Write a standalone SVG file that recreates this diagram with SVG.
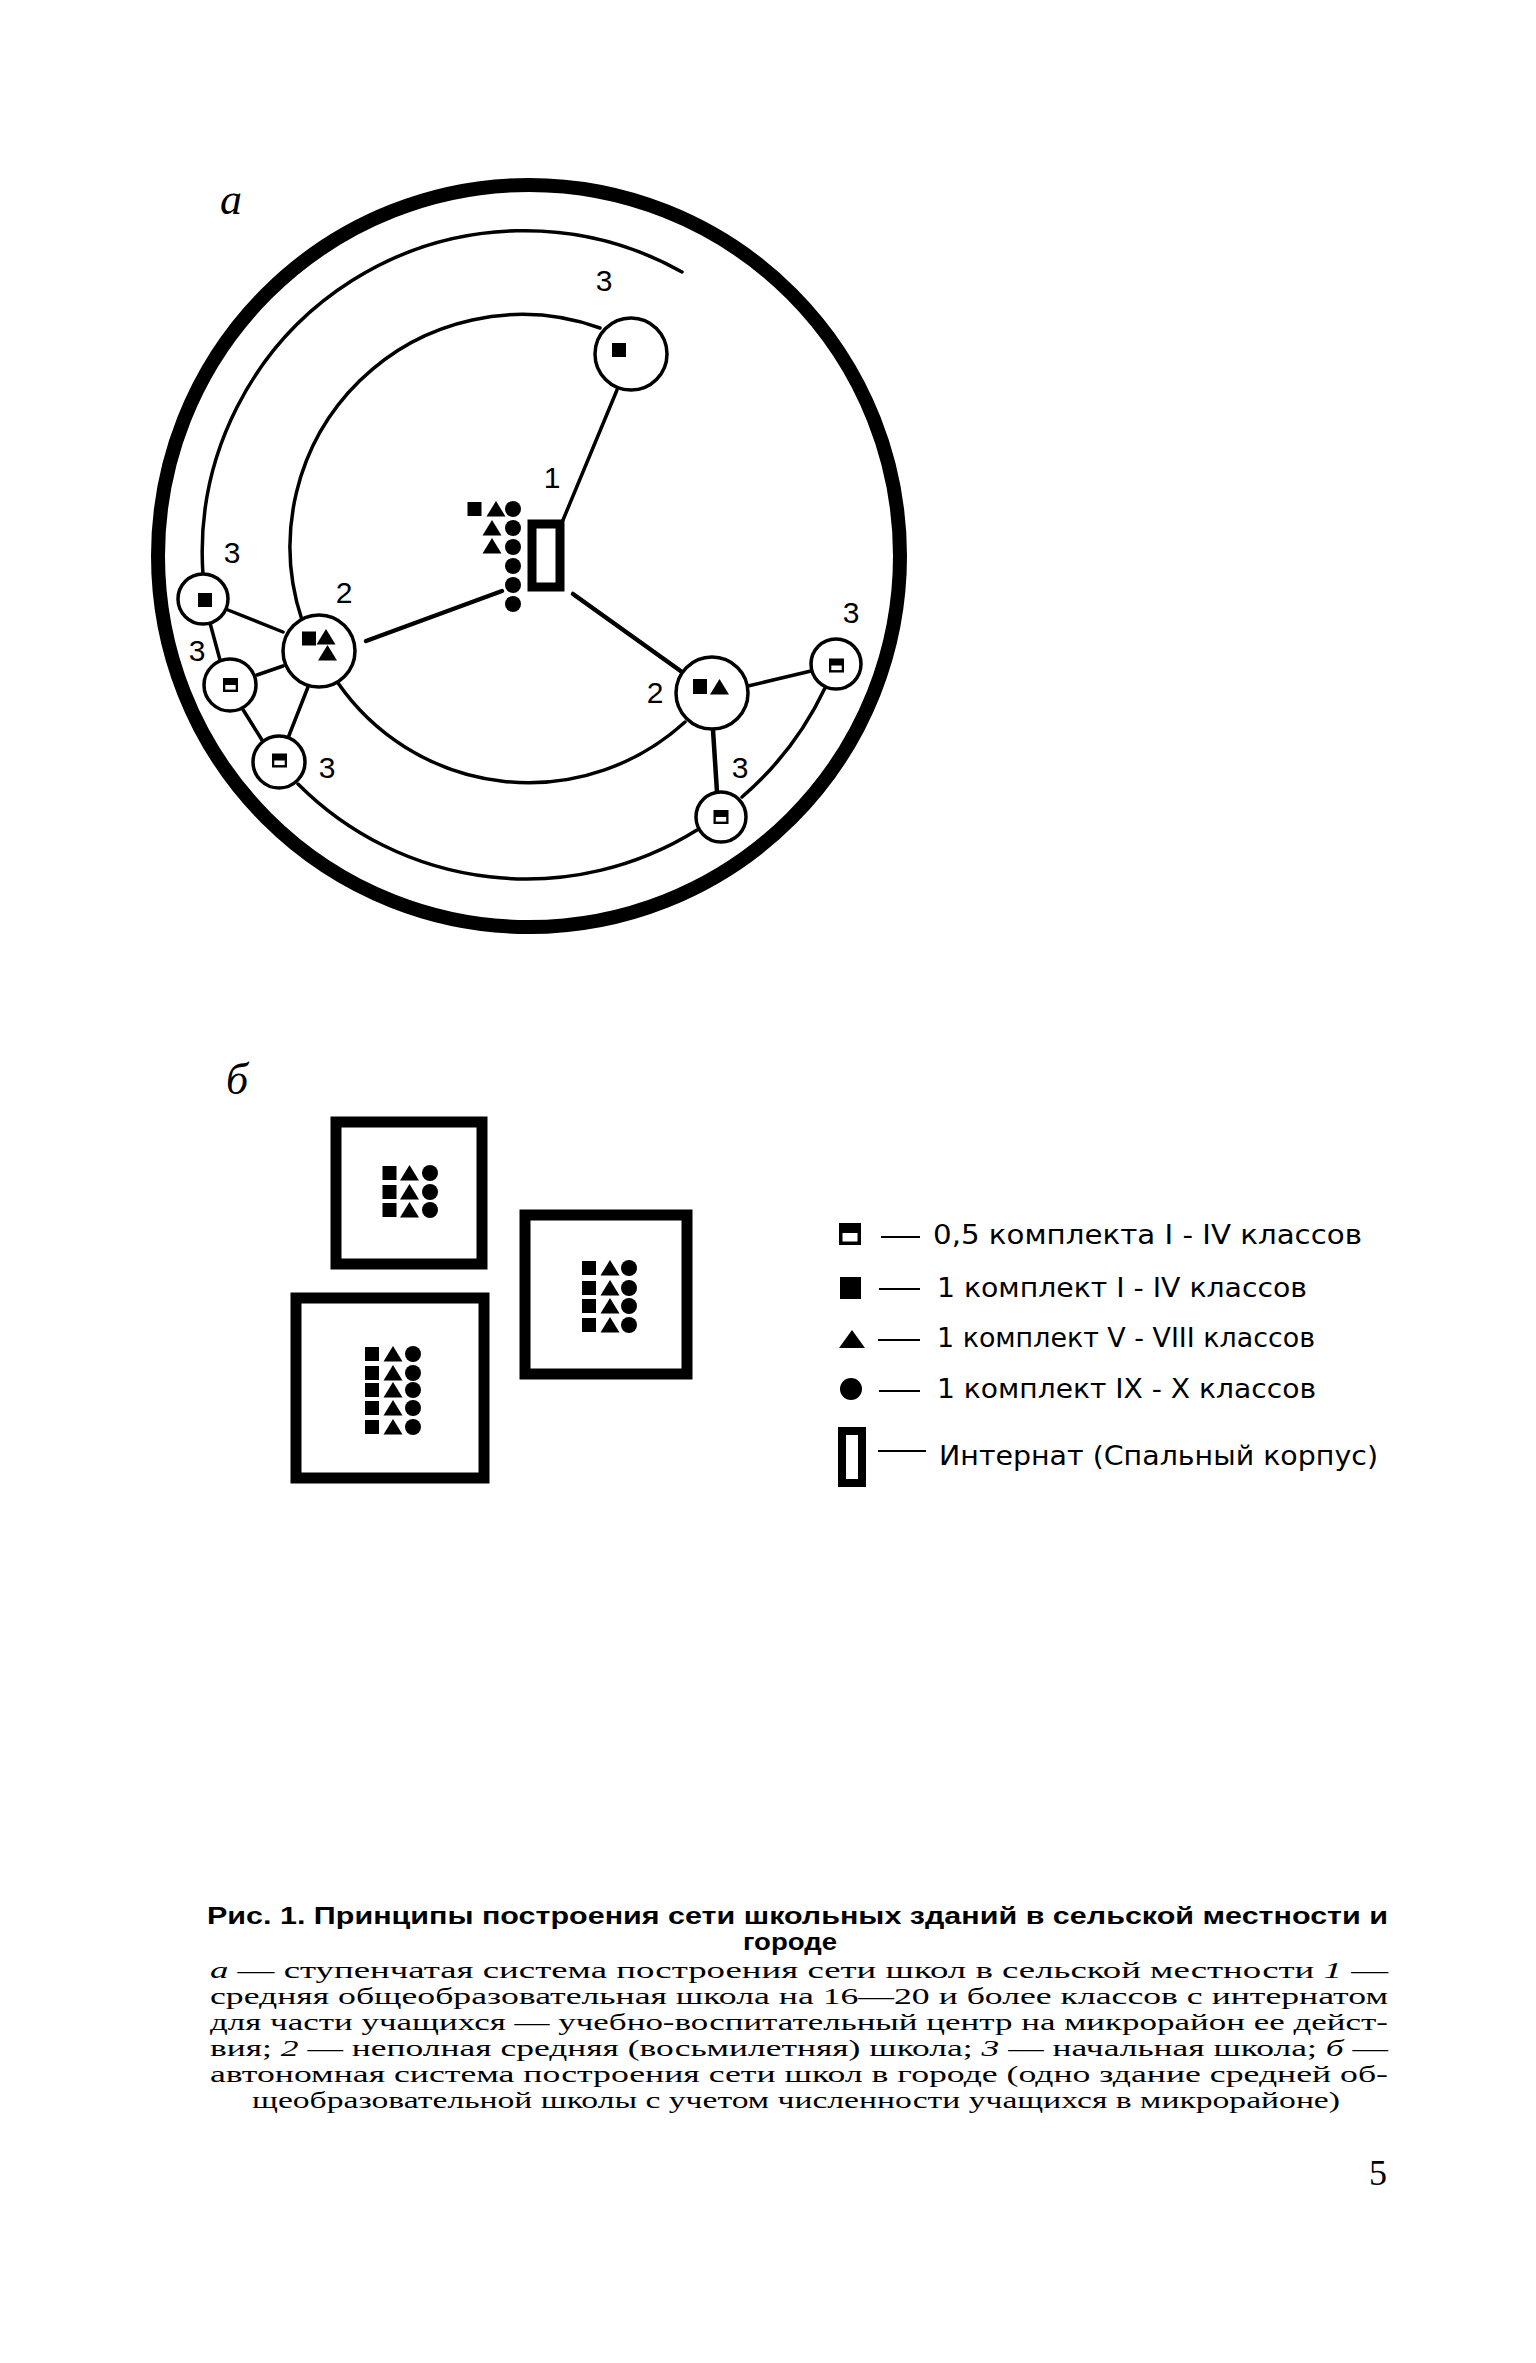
<svg xmlns="http://www.w3.org/2000/svg" xmlns:xlink="http://www.w3.org/1999/xlink" width="1536" height="2363" viewBox="0 0 1536 2363">
<style>
.ln{fill:none;stroke:#000;stroke-width:3.5;stroke-linecap:round}
.lnb{fill:none;stroke:#000;stroke-width:4.5;stroke-linecap:round}
.nd{fill:#fff;stroke:#000;stroke-width:3.5}
.bld{fill:none;stroke:#000;stroke-width:11}
.lbl{font-family:'Liberation Sans',Arial,sans-serif;font-size:30px;fill:#000}
.let{font-family:'Liberation Serif','Times New Roman',serif;font-style:italic;font-size:44px;fill:#000}
.leg{font-family:'DejaVu Sans Condensed','DejaVu Sans','Liberation Sans',sans-serif;font-size:26px;fill:#000}
.dash{stroke:#000;stroke-width:2.2}
.cap{font-family:'Liberation Sans',Arial,sans-serif;font-weight:bold;font-size:23px;fill:#000}
.body{font-family:'Liberation Serif','Times New Roman',serif;font-size:23px;fill:#000}
</style>
<defs>
<g id="sq"><rect x="-7" y="-7" width="14" height="14" fill="#000"/></g>
<g id="tri"><polygon points="0,-8 9.5,7.5 -9.5,7.5" fill="#000"/></g>
<g id="dot"><circle r="8" fill="#000"/></g>
<g id="half"><rect x="-7.5" y="-7" width="15" height="14" fill="#000"/><rect x="-5.2" y="0" width="10.4" height="4.6" fill="#fff"/></g>
</defs>
<rect width="1536" height="2363" fill="#fff"/>

<text class="let" x="231" y="214" text-anchor="middle">а</text>
<circle cx="529" cy="556" r="371" fill="none" stroke="#000" stroke-width="14"/>

<g id="connectors">
<path class="ln" d="M 682 272 A 322 322 0 0 0 203 575"/>
<path class="ln" d="M 298 784 A 322 322 0 0 0 697 830"/>
<path class="ln" d="M 742 797 A 330 330 0 0 0 825 688"/>
<path class="ln" d="M 600 328 A 232 232 0 0 0 302 620"/>
<path class="ln" d="M 338 683 A 232 232 0 0 0 685 722"/>
<line class="ln" x1="563" y1="520" x2="617" y2="390"/>
<line class="lnb" x1="366" y1="641" x2="502" y2="591"/>
<line class="lnb" x1="573" y1="594" x2="682" y2="672"/>
<line class="ln" x1="228" y1="610" x2="283" y2="632"/>
<line class="ln" x1="210" y1="623" x2="220" y2="660"/>
<line class="ln" x1="257" y1="675" x2="283" y2="666"/>
<line class="ln" x1="242" y1="708" x2="262" y2="740"/>
<line class="ln" x1="308" y1="687" x2="288" y2="738"/>
<line class="ln" x1="748" y1="686" x2="811" y2="671"/>
<line class="lnb" x1="713" y1="730" x2="717" y2="792"/>
</g>

<g id="center-school">
<rect x="532" y="524" width="28" height="63" fill="#fff" stroke="#000" stroke-width="9"/>
<use xlink:href="#sq" x="474.5" y="509"/>
<use xlink:href="#tri" x="496" y="509"/>
<use xlink:href="#dot" x="513" y="509"/>
<use xlink:href="#tri" x="492" y="528"/>
<use xlink:href="#dot" x="513" y="528"/>
<use xlink:href="#tri" x="492" y="546"/>
<use xlink:href="#dot" x="513" y="547"/>
<use xlink:href="#dot" x="513" y="566"/>
<use xlink:href="#dot" x="513" y="585"/>
<use xlink:href="#dot" x="513" y="604"/>
<text class="lbl" x="552" y="488" text-anchor="middle">1</text>
</g>

<g id="node-3-top">
<circle class="nd" cx="631" cy="354" r="36"/>
<use xlink:href="#sq" x="619" y="350"/>
<text class="lbl" x="604" y="291" text-anchor="middle">3</text>
</g>

<g id="node-3-left-a">
<circle class="nd" cx="203" cy="599" r="25"/>
<use xlink:href="#sq" x="205" y="600"/>
<text class="lbl" x="232" y="563" text-anchor="middle">3</text>
</g>

<g id="node-2-left">
<circle class="nd" cx="319" cy="651" r="36"/>
<use xlink:href="#sq" x="309" y="638.5"/>
<use xlink:href="#tri" x="326" y="637"/>
<use xlink:href="#tri" x="327.5" y="653"/>
<text class="lbl" x="344" y="603" text-anchor="middle">2</text>
</g>

<g id="node-3-left-b">
<circle class="nd" cx="230" cy="685" r="26"/>
<use xlink:href="#half" x="230.5" y="685"/>
<text class="lbl" x="197" y="661" text-anchor="middle">3</text>
</g>

<g id="node-3-left-c">
<circle class="nd" cx="279" cy="762" r="26"/>
<use xlink:href="#half" x="279.5" y="760.5"/>
<text class="lbl" x="327" y="778" text-anchor="middle">3</text>
</g>

<g id="node-2-right">
<circle class="nd" cx="712" cy="693" r="36"/>
<rect x="693" y="679" width="14" height="15" fill="#000"/>
<use xlink:href="#tri" x="719.5" y="687"/>
<text class="lbl" x="655" y="703" text-anchor="middle">2</text>
</g>

<g id="node-3-right">
<circle class="nd" cx="836" cy="664" r="25"/>
<use xlink:href="#half" x="836.5" y="665.5"/>
<text class="lbl" x="851" y="623" text-anchor="middle">3</text>
</g>

<g id="node-3-bottom-right">
<circle class="nd" cx="721" cy="817" r="25"/>
<use xlink:href="#half" x="721" y="817"/>
<text class="lbl" x="740" y="778" text-anchor="middle">3</text>
</g>

<text class="let" x="237" y="1094" text-anchor="middle" font-size="40">б</text>

<g id="building-1">
<rect class="bld" x="336" y="1122" width="146" height="142"/>
<use xlink:href="#sq" x="389.5" y="1173"/><use xlink:href="#tri" x="409.5" y="1173"/><use xlink:href="#dot" x="430" y="1173"/>
<use xlink:href="#sq" x="389.5" y="1192"/><use xlink:href="#tri" x="409.5" y="1192"/><use xlink:href="#dot" x="430" y="1192"/>
<use xlink:href="#sq" x="389.5" y="1210"/><use xlink:href="#tri" x="409.5" y="1210"/><use xlink:href="#dot" x="430" y="1210"/>
</g>

<g id="building-2">
<rect class="bld" x="525" y="1215" width="162" height="159" stroke-width="12"/>
<use xlink:href="#sq" x="589" y="1268"/><use xlink:href="#tri" x="610" y="1268"/><use xlink:href="#dot" x="629" y="1268"/>
<use xlink:href="#sq" x="589" y="1288"/><use xlink:href="#tri" x="610" y="1288"/><use xlink:href="#dot" x="629" y="1288"/>
<use xlink:href="#sq" x="589" y="1306"/><use xlink:href="#tri" x="610" y="1306"/><use xlink:href="#dot" x="629" y="1306"/>
<use xlink:href="#sq" x="589" y="1325"/><use xlink:href="#tri" x="610" y="1325"/><use xlink:href="#dot" x="629" y="1325"/>
</g>

<g id="building-3">
<rect class="bld" x="296" y="1298" width="188" height="180"/>
<use xlink:href="#sq" x="372" y="1354"/><use xlink:href="#tri" x="393" y="1354"/><use xlink:href="#dot" x="413" y="1354"/>
<use xlink:href="#sq" x="372" y="1373"/><use xlink:href="#tri" x="393" y="1373"/><use xlink:href="#dot" x="413" y="1373"/>
<use xlink:href="#sq" x="372" y="1390"/><use xlink:href="#tri" x="393" y="1390"/><use xlink:href="#dot" x="413" y="1390"/>
<use xlink:href="#sq" x="372" y="1408"/><use xlink:href="#tri" x="393" y="1408"/><use xlink:href="#dot" x="413" y="1408"/>
<use xlink:href="#sq" x="372" y="1427"/><use xlink:href="#tri" x="393" y="1427"/><use xlink:href="#dot" x="413" y="1427"/>
</g>

<g id="legend">
<g id="legend-half">
<rect x="839" y="1223" width="22" height="22" fill="#000"/><rect x="842.5" y="1233" width="15" height="8.5" fill="#fff"/>
<line class="dash" x1="881" y1="1237" x2="920" y2="1237"/>
<text class="leg" x="933" y="1244" textLength="429" lengthAdjust="spacingAndGlyphs">0,5 комплекта  I - IV классов</text>
</g>
<g id="legend-square">
<rect x="840" y="1277" width="21" height="22" fill="#000"/>
<line class="dash" x1="879" y1="1289" x2="920" y2="1289"/>
<text class="leg" x="937" y="1297" textLength="370" lengthAdjust="spacingAndGlyphs">1 комплект  I - IV классов</text>
</g>
<g id="legend-triangle">
<polygon points="852,1330 865,1348 839,1348" fill="#000"/>
<line class="dash" x1="878" y1="1340" x2="920" y2="1340"/>
<text class="leg" x="937" y="1347" textLength="378" lengthAdjust="spacingAndGlyphs">1 комплект  V - VIII классов</text>
</g>
<g id="legend-circle">
<circle cx="851" cy="1389" r="11" fill="#000"/>
<line class="dash" x1="879" y1="1391" x2="920" y2="1391"/>
<text class="leg" x="937" y="1398" textLength="379" lengthAdjust="spacingAndGlyphs">1 комплект IX - X классов</text>
</g>
<g id="legend-internat">
<rect x="842" y="1431" width="20" height="52" fill="none" stroke="#000" stroke-width="8"/>
<line class="dash" x1="878" y1="1451" x2="926" y2="1451"/>
<text class="leg" x="939" y="1465" font-size="32" textLength="439" lengthAdjust="spacingAndGlyphs">Интернат (Спальный корпус)</text>
</g>
</g>

<g id="caption">
<text class="cap" x="207" y="1924" textLength="1181" lengthAdjust="spacingAndGlyphs">Рис. 1. Принципы построения сети школьных зданий в сельской местности и</text>
<text class="cap" x="743" y="1950" font-size="22" textLength="94" lengthAdjust="spacingAndGlyphs">городе</text>
<text class="body" x="210" y="1978" textLength="1178" lengthAdjust="spacingAndGlyphs"><tspan font-style="italic">а</tspan> — ступенчатая система построения  сети  школ в сельской  местности  <tspan font-style="italic">1</tspan> —</text>
<text class="body" x="210" y="2004" textLength="1178" lengthAdjust="spacingAndGlyphs">средняя общеобразовательная школа на 16—20 и более классов с интернатом</text>
<text class="body" x="210" y="2030" textLength="1178" lengthAdjust="spacingAndGlyphs">для части учащихся — учебно-воспитательный центр на микрорайон ее дейст-</text>
<text class="body" x="210" y="2056" textLength="1178" lengthAdjust="spacingAndGlyphs">вия; <tspan font-style="italic">2</tspan> — неполная средняя (восьмилетняя) школа; <tspan font-style="italic">3</tspan> — начальная школа; <tspan font-style="italic">б</tspan> —</text>
<text class="body" x="210" y="2082" textLength="1178" lengthAdjust="spacingAndGlyphs">автономная система построения сети школ в городе (одно здание средней об-</text>
<text class="body" x="252" y="2108" textLength="1088" lengthAdjust="spacingAndGlyphs">щеобразовательной школы с учетом численности учащихся в микрорайоне)</text>
</g>

<text x="1378" y="2185" text-anchor="middle" font-family="'Liberation Serif','Times New Roman',serif" font-size="36" fill="#000">5</text>
</svg>
